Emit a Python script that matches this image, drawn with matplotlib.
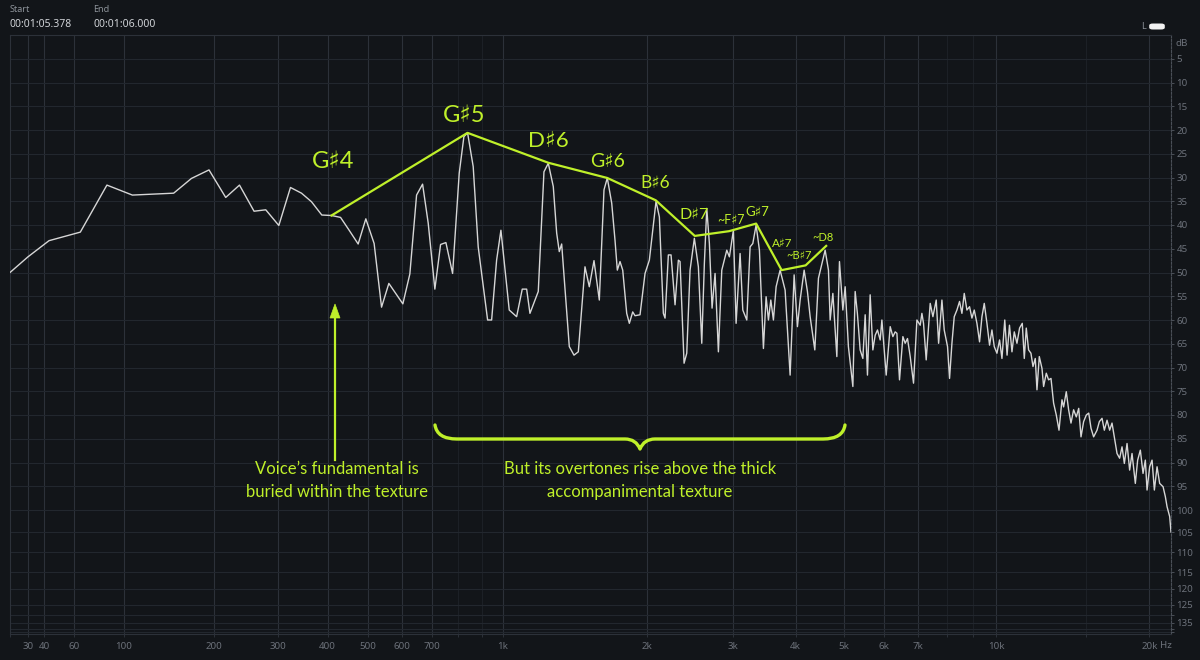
import numpy as np
import matplotlib
matplotlib.use("Agg")
import matplotlib.pyplot as plt
from matplotlib.path import Path
from matplotlib.patches import PathPatch, Polygon, FancyBboxPatch
from matplotlib.lines import Line2D
from matplotlib.ticker import FixedLocator, FixedFormatter

# ---------------- data ----------------
FREQ_HZ = [
    20, 30.1, 43.0, 64.6, 85.5, 108.0, 150.4, 171.2, 193.5, 216.4,
    236.6, 259.4, 278.8, 301.7, 323.3, 344.8, 365.2, 387.3, 409.1, 430.1,
    451.0, 473.8, 493.9, 516.5, 537.4, 558.7, 601.5, 623.9, 646.1, 666.5,
    686.1, 710.0, 731.1, 751.2, 777.2, 803.7, 822.9, 838.3, 862.3, 884.2,
    926.7, 945.4, 969.1, 990.0, 1031.5, 1069.7, 1099.7, 1123.6, 1141.9, 1189.2,
    1222.6, 1248.5, 1279.2, 1300.4, 1316.9, 1332.2, 1382.1, 1413.7, 1443.4, 1490.5,
    1521.6, 1556.2, 1596.2, 1632.3, 1658.2, 1693.4, 1720.2, 1739.2, 1761.6, 1784.4,
    1818.5, 1841.3, 1871.0, 1891.5, 1936.8, 1983.1, 2024.0, 2088.8, 2121.7, 2161.9,
    2179.2, 2213.4, 2241.5, 2284.0, 2319.8, 2338.2, 2382.6, 2412.8, 2450.4, 2500.2,
    2547.6, 2588.2, 2619.8, 2649.3, 2681.9, 2715.6, 2753.8, 2796.8, 2841.2, 2908.1,
    2943.6, 2998.9, 3036.7, 3093.5, 3132.5, 3191.2, 3240.4, 3281.3, 3331.8, 3383.4,
    3446.5, 3489.7, 3527.4, 3566.3, 3609.5, 3654.8, 3722.9, 3809.8, 3898.8, 3971.5,
    4032.3, 4082.7, 4158.7, 4222.4, 4275.1, 4368.1, 4441.7, 4580.5, 4650.8, 4686.9,
    4745.7, 4833.1, 4891.8, 4968.4, 5021.0, 5096.1, 5201.5, 5256.5, 5310, 5378,
    5445, 5503, 5561, 5630, 5700, 5761, 5822, 5894, 5940, 5983,
    6058, 6170, 6246, 6312, 6362, 6438, 6538, 6607, 6677, 6760,
    6863, 6970, 7075, 7130, 7183, 7271, 7405, 7497, 7611, 7694,
    7811, 7893, 8013, 8087, 8175, 8261, 8363, 8463, 8555, 8646,
    8752, 8857, 8953, 9048, 9159, 9269, 9370, 9469, 9585, 9700,
    9805, 9909, 10030, 10151, 10261, 10393, 10502, 10617, 10738, 10851,
    10984, 11115, 11252, 11355, 11458, 11579, 11704, 11812, 11935, 12027,
    12154, 12304, 12394, 12546, 12677, 12816, 12968, 13127, 13289, 13470,
    13569, 13735, 13881, 14031, 14198, 14372, 14530, 14681, 14855, 15038,
    15203, 15362, 15544, 15784, 15951, 16146, 16315, 16516, 16712, 16892,
    17070, 17279, 17484, 17674, 17860, 18079, 18293, 18491, 18769, 18967,
    19199, 19434, 19638, 19789, 20025, 20242, 20454, 20704, 20950, 21275,
    21496, 21660, 21920, 22050,
]
LEVEL_DB = [
    -50.0, -46.7, -43.3, -41.5, -31.6, -33.7, -33.3, -30.2, -28.4, -34.2,
    -31.6, -37.1, -36.8, -40.1, -32.1, -33.3, -35.1, -37.9, -38.0, -38.4,
    -41.1, -44.0, -38.7, -43.9, -57.3, -52.3, -56.6, -50.3, -33.7, -31.4,
    -39.6, -53.5, -44.1, -43.7, -50.2, -29.1, -21.4, -20.6, -27.7, -44.6,
    -60.0, -60.0, -47.4, -41.1, -57.9, -59.3, -53.5, -53.5, -58.6, -54.0,
    -28.8, -27.0, -31.9, -41.7, -45.6, -44.0, -65.6, -67.4, -66.7, -48.8,
    -53.0, -47.5, -55.8, -32.6, -30.1, -35.4, -43.2, -49.5, -47.7, -49.5,
    -58.6, -60.7, -58.3, -59.1, -58.9, -50.2, -47.4, -35.0, -38.3, -58.6,
    -59.6, -46.3, -46.3, -56.8, -47.4, -47.7, -69.1, -67.0, -49.5, -42.8,
    -48.8, -64.9, -48.1, -36.5, -43.9, -57.5, -50.2, -66.7, -49.5, -45.3,
    -46.7, -41.1, -60.7, -46.0, -57.9, -60.0, -44.6, -43.9, -40.0, -45.3,
    -66.0, -55.1, -60.0, -55.8, -60.0, -53.0, -49.5, -53.7, -71.6, -50.5,
    -61.4, -55.8, -49.5, -54.0, -59.3, -66.3, -51.2, -45.3, -49.5, -60.0,
    -54.4, -67.7, -47.7, -57.9, -53.0, -65.6, -74.0, -54.0, -58.6, -66.3,
    -68.1, -58.9, -71.6, -54.7, -66.3, -63.2, -62.1, -64.2, -60.0, -64.2,
    -71.6, -61.4, -63.5, -62.5, -62.8, -72.6, -63.5, -64.9, -63.9, -67.7,
    -73.3, -60.0, -61.1, -58.6, -60.7, -68.4, -56.5, -59.3, -55.8, -64.9,
    -55.8, -62.1, -65.6, -72.3, -64.9, -59.3, -57.9, -56.1, -58.6, -54.4,
    -57.9, -57.2, -59.6, -57.9, -60.7, -64.6, -59.3, -56.5, -60.7, -65.3,
    -62.1, -65.6, -67.0, -64.2, -68.1, -60.0, -67.4, -61.1, -66.7, -62.5,
    -64.9, -61.7, -60.7, -68.1, -61.7, -66.3, -67.0, -69.8, -68.1, -74.7,
    -67.7, -70.2, -74.0, -71.2, -72.6, -72.3, -77.5, -80.0, -83.2, -76.8,
    -78.3, -75.1, -78.9, -81.7, -78.9, -80.4, -78.6, -84.6, -81.4, -80.0,
    -79.6, -82.8, -84.6, -83.2, -81.4, -80.7, -83.2, -81.1, -83.2, -81.7,
    -84.6, -88.1, -89.1, -86.7, -90.2, -86.0, -91.6, -88.1, -94.4, -89.5,
    -87.4, -92.3, -89.5, -95.8, -90.9, -89.5, -95.8, -90.9, -94.4, -95.1,
    -97.2, -99.3, -101.5, -105.0,
]

NOTE_NAMES = ["G\u266f4", "G\u266f5", "D\u266f6", "G\u266f6", "B\u266f6", "D\u266f7",
              "~F\u266f7", "G\u266f7", "A\u266f7", "~B\u266f7", "~D8"]
NOTE_HZ = [409, 838, 1249, 1658, 2086, 2505, 2939, 3332, 3749, 4187, 4602]
NOTE_DB = [-38.0, -20.6, -26.9, -30.1, -34.8, -42.3, -41.3, -39.7, -49.5, -48.5, -44.4]

X_MAJOR_HZ = [30, 40, 60, 100, 200, 300, 400, 500, 600, 700,
              1000, 2000, 3000, 4000, 5000, 6000, 7000, 10000, 20000]
X_MAJOR_LABELS = ["30", "40", "60", "100", "200", "300", "400", "500", "600", "700",
                  "1k", "2k", "3k", "4k", "5k", "6k", "7k", "10k", "20k"]
X_MINOR_HZ = [20, 800, 900, 8000, 9000, 15000]
Y_GRID_DB = list(range(-145, 0, 5))
Y_UNLABELED_DB = [-130, -140, -145]

START_LABEL, START_TIME = "Start", "00:01:05.378"
END_LABEL, END_TIME = "End", "00:01:06.000"
FUND_TEXT = ["Voice\u2019s fundamental is", "buried within the texture"]
OVER_TEXT = ["But its overtones rise above the thick", "accompanimental texture"]

# ---------------- styling / layout ----------------
BG = "#121519"
GRID_V = "#2c3139"
GRID_H = "#22272e"
GRID_MINOR = "#1c2026"
TICK_TXT = "#6c717a"
LINE_COL = "#d6d6d6"
GREEN = "#bff02a"
FONT = ["Lato", "DejaVu Sans"]
UI_FONT = ["Noto Sans", "DejaVu Sans"]

# label offsets (pixels) and sizes (pt) for each note label
NOTE_OFFSETS = [(2, 47), (-3, 11), (0.5, 16), (0, 11), (-0.5, 12), (-1, 16.5),
                (2, 7.5), (1.5, 7.5), (1, 23), (-7, 6), (-3, 4.5)]
NOTE_SIZES = [17, 17, 16, 14, 12.5, 11.5, 9, 9.5, 8.5, 8, 8]

W, H = 1200, 660
L, R, T, B = 10, 1171, 35, 634


def fxy(x, y):
    return (x / W, 1 - y / H)


fig = plt.figure(figsize=(12, 6.6), dpi=100, facecolor=BG)
ax = fig.add_axes([L / W, 1 - B / H, (R - L) / W, (B - T) / H], facecolor=BG)

# warped frequency axis (log of f + 100 Hz)
ax.set_xscale("function", functions=(lambda f: np.log10(np.maximum(np.asarray(f, float) + 100, 1e-3)),
                                     lambda v: 10 ** np.asarray(v, float) - 100))
# dB axis: linear down to -100, then compressed
DBK = np.array([-300, -150, -145, -140, -135, -130, -125, -120, -115, -110, -105, -100, 0, 100], float)
PXK = np.array([700, 599, 597, 594, 588, 580, 570, 554, 537, 517, 497, 475, 0, -475], float)
ax.set_yscale("function", functions=(lambda d: -np.interp(d, DBK, PXK),
                                     lambda v: np.interp(-np.asarray(v, float), PXK[::-1], DBK[::-1])))
ax.set_xlim(20, 22050)
ax.set_ylim(-150, 0)

# ticks and grid
ax.xaxis.set_major_locator(FixedLocator(X_MAJOR_HZ))
ax.xaxis.set_major_formatter(FixedFormatter(X_MAJOR_LABELS))
ax.xaxis.set_minor_locator(FixedLocator(X_MINOR_HZ))
ax.yaxis.tick_right()
ax.yaxis.set_major_locator(FixedLocator(Y_GRID_DB))
ax.yaxis.set_major_formatter(FixedFormatter(
    ["" if v in Y_UNLABELED_DB else str(abs(v)) for v in Y_GRID_DB]))
ax.grid(which="major", axis="x", color=GRID_V, lw=0.8)
ax.grid(which="minor", axis="x", color=GRID_MINOR, lw=0.8)
ax.grid(which="major", axis="y", color=GRID_H, lw=0.8)
ax.tick_params(axis="x", which="both", length=2.5, width=0.7, color=GRID_V,
               labelcolor=TICK_TXT, labelsize=7, pad=3)
ax.tick_params(axis="y", which="major", length=2.5, width=0.7, color="#4a4f57",
               labelcolor=TICK_TXT, labelsize=7, pad=1.5, right=True, left=False)
for lab in ax.get_xticklabels() + ax.get_yticklabels():
    lab.set_family(UI_FONT)
for side in ("left", "top", "bottom"):
    ax.spines[side].set_color(GRID_V)
    ax.spines[side].set_linewidth(0.8)
ax.spines["right"].set_color("#4a4f57")
ax.spines["right"].set_linewidth(0.8)
ax.spines["right"].set_linestyle((0, (2.0, 1.4)))

# spectrum
ax.plot(FREQ_HZ, LEVEL_DB, color=LINE_COL, lw=1.0, zorder=3, solid_joinstyle="round")

# harmonic envelope
ax.plot(NOTE_HZ, NOTE_DB, color=GREEN, lw=1.6, zorder=4, solid_joinstyle="round")
for name, f, d, (dx, dy), s in zip(NOTE_NAMES, NOTE_HZ, NOTE_DB, NOTE_OFFSETS, NOTE_SIZES):
    ax.annotate(name, (f, d), xytext=(dx, dy), textcoords="offset pixels",
                ha="center", va="baseline", fontsize=s, color=GREEN, family=FONT, zorder=5)

# arrow to fundamental
fig.add_artist(Line2D([335 / W, 335 / W], [1 - 460 / H, 1 - 314 / H], color=GREEN, lw=1.6))
fig.add_artist(Polygon([fxy(330, 318), fxy(340, 318), fxy(335, 304)], closed=True,
                       facecolor=GREEN, edgecolor=GREEN, lw=0.5, transform=fig.transFigure))

# curly brace
bp = [(435, 425), (437, 439), (457, 439), (625, 439), (636, 439), (640, 449),
      (644, 439), (655, 439), (823, 439), (843, 439), (845, 425)]
codes = [Path.MOVETO, Path.CURVE3, Path.CURVE3, Path.LINETO, Path.CURVE3, Path.CURVE3,
         Path.CURVE3, Path.CURVE3, Path.LINETO, Path.CURVE3, Path.CURVE3]
fig.add_artist(PathPatch(Path([fxy(*p) for p in bp], codes), facecolor="none", edgecolor=GREEN,
                         lw=2.4, capstyle="round", joinstyle="round", transform=fig.transFigure))

# captions
for i, line in enumerate(FUND_TEXT):
    fig.text(*fxy(337, 474 + 23 * i), line, ha="center", va="baseline", fontsize=12,
             color=GREEN, family=FONT)
for i, line in enumerate(OVER_TEXT):
    fig.text(*fxy(640, 474 + 23 * i), line, ha="center", va="baseline", fontsize=12,
             color=GREEN, family=FONT)

# header and axis extras
fig.text(*fxy(10, 11.5), START_LABEL, fontsize=6.5, color="#8d939a", family=UI_FONT, va="baseline")
fig.text(*fxy(10, 27.3), START_TIME, fontsize=7.5, color="#d0d3d7", family=UI_FONT, va="baseline")
fig.text(*fxy(93, 11.5), END_LABEL, fontsize=6.5, color="#8d939a", family=UI_FONT, va="baseline")
fig.text(*fxy(93, 27.3), END_TIME, fontsize=7.5, color="#d0d3d7", family=UI_FONT, va="baseline")
fig.text(*fxy(1141.5, 29.3), "L", fontsize=6.5, color="#8d939a", family=UI_FONT, va="baseline")
fig.add_artist(FancyBboxPatch(fxy(1151, 28.5), 12 / W, 4 / H,
                              boxstyle="round,pad=0.0015,rounding_size=0.003",
                              facecolor="#f2f2f2", edgecolor="none", transform=fig.transFigure))
fig.text(*fxy(1175, 46.5), "dB", fontsize=7, color=TICK_TXT, family=UI_FONT, va="baseline")
fig.text(*fxy(1160, 648.5), "Hz", fontsize=7, color=TICK_TXT, family=UI_FONT, va="baseline")

fig.savefig("out.png", dpi=100, facecolor=BG)
